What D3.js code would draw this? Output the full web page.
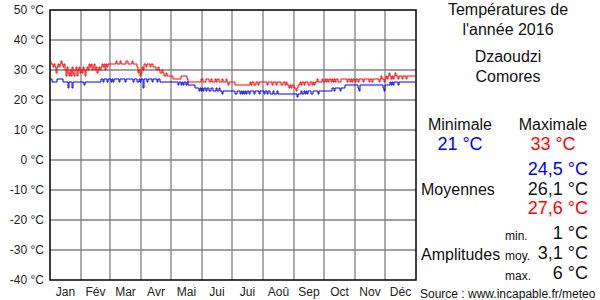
<!DOCTYPE html>
<html>
<head>
<meta charset="utf-8">
<script src="https://cdn.jsdelivr.net/npm/d3@7"></script>
<style>
  body { margin: 0; background: #fff; }
  svg { font-family: "Liberation Sans", Arial, sans-serif; }
</style>
</head>
<body>
<div id="chart"></div>
<script>
// Month labels and number of days in each month (2016, leap year)
const months = ["Jan", "Fév", "Mar", "Avr", "Mai", "Jui", "Jui", "Aoû", "Sep", "Oct", "Nov", "Déc"];
const monthDays = [31, 29, 31, 30, 31, 30, 31, 31, 30, 31, 30, 31];
const yTicks = [50, 40, 30, 20, 10, 0, -10, -20, -30, -40];

// Daily maxima, one row per month
const tMax = [
  33,32,32,31,32,31,29,31,32,31,32,33,32,31,32,30,28,31,29,28,30,28,31,29,28,30,31,28,30,31,29,
  30,29,31,30,28,30,31,30,32,31,32,30,31,32,30,31,29,30,31,30,31,32,31,32,30,32,31,32,32,
  32,32,32,32,32,32,33,32,32,32,33,32,32,32,32,32,33,33,32,32,32,32,33,32,32,32,32,31,29,30,28,
  29,31,30,32,32,31,32,32,32,31,32,32,31,31,31,30,30,31,30,29,29,30,29,28,28,29,28,28,28,28,
  28,28,27,27,27,27,27,27,27,27,28,28,28,28,28,28,27,26,26,26,26,26,26,26,26,26,26,26,26,26,27,
  27,26,26,26,27,27,27,26,26,27,26,26,26,27,26,27,27,26,26,26,27,26,26,26,27,26,25,26,26,26,
  26,26,26,25,25,25,25,25,25,25,25,25,25,25,25,25,25,25,26,25,26,26,25,25,26,26,25,26,26,26,26,
  26,26,26,26,25,26,26,26,26,25,26,26,26,25,26,26,26,26,25,25,26,26,25,26,25,25,24,25,24,25,25,
  24,24,23,24,25,25,26,25,26,26,25,26,26,26,25,25,26,26,25,26,25,26,26,27,26,26,26,26,27,26,
  26,27,26,27,26,27,27,26,27,26,27,26,27,27,26,26,26,27,27,27,27,27,27,26,27,27,26,27,26,27,27,
  26,27,27,26,27,27,27,27,26,27,27,27,27,27,26,27,27,26,27,27,27,27,27,27,26,27,28,27,27,26,
  27,28,27,28,29,28,27,28,27,28,29,28,28,27,28,28,28,27,28,28,28,27,28,28,28,28,28,28,28,28,28
];

// Daily minima, one row per month
const tMin = [
  27,27,26,26,26,26,26,27,27,27,27,27,27,26,26,26,26,26,24,26,26,26,24,26,26,26,26,26,26,26,26,
  26,26,26,25,26,26,26,26,26,26,26,26,26,26,26,26,26,26,26,26,27,27,26,27,27,27,26,27,27,
  27,26,27,26,27,27,27,27,27,26,27,27,27,27,27,26,27,27,27,27,27,27,27,26,27,27,27,26,26,27,26,
  27,27,24,27,27,27,26,27,27,27,27,26,27,27,27,27,26,27,27,26,26,26,26,26,26,26,26,26,26,26,
  26,26,26,26,26,26,26,25,26,26,25,26,25,26,26,25,26,25,25,25,25,25,25,25,24,24,24,24,23,24,23,
  24,23,24,24,23,24,24,23,23,24,24,23,23,23,24,23,23,24,23,23,22,23,23,23,23,23,23,23,23,23,
  23,23,23,22,22,23,23,23,22,23,22,23,22,23,22,23,23,22,23,23,23,23,22,23,23,23,23,22,23,23,23,
  23,22,23,23,22,23,23,22,22,22,23,22,22,22,23,22,22,22,22,22,22,22,22,22,22,22,22,22,22,22,22,
  22,22,22,21,22,22,22,23,22,22,23,22,23,22,23,23,23,22,22,23,23,23,23,23,22,23,23,23,23,23,
  23,23,23,23,23,23,23,23,24,24,23,24,24,24,24,24,23,24,24,24,24,25,25,25,25,25,25,25,25,25,25,
  25,25,25,24,23,25,25,25,25,25,25,25,25,25,25,25,25,25,25,25,25,25,25,25,25,25,25,25,24,23,
  25,25,25,25,25,26,25,26,25,26,26,26,26,25,26,26,26,26,26,26,26,26,26,26,26,26,26,26,26,26,26
];

// Summary texts shown on the right
const extremes = ["21 °C", "33 °C"];
const means = ["24,5 °C", "26,1 °C", "27,6 °C"];
const ampLabels = ["min.", "moy.", "max."];
const amplitudes = ["1 °C", "3,1 °C", "6 °C"];

const width = 600;
const height = 300;
const plotLeft = 50, plotRight = 416, plotTop = 10, plotBottom = 280;

const svg = d3.select("#chart")
  .append("svg")
  .attr("width", width)
  .attr("height", height);

const nDays = d3.sum(monthDays);
const x = d3.scaleLinear().domain([0, nDays]).range([plotLeft, plotRight]);
const y = d3.scaleLinear().domain([-40, 50]).range([plotBottom, plotTop]);

// month boundaries
const bounds = [0];
monthDays.forEach(d => bounds.push(bounds[bounds.length - 1] + d));

// grid
svg.append("g")
  .selectAll("line")
  .data(yTicks.slice(1, -1))
  .enter()
  .append("line")
  .attr("x1", plotLeft).attr("x2", plotRight)
  .attr("y1", d => y(d)).attr("y2", d => y(d))
  .attr("stroke", "#808080")
  .attr("stroke-width", 1.3);

svg.append("g")
  .selectAll("line")
  .data(bounds.slice(1, -1))
  .enter()
  .append("line")
  .attr("x1", d => x(d)).attr("x2", d => x(d))
  .attr("y1", plotTop).attr("y2", plotBottom)
  .attr("stroke", "#808080")
  .attr("stroke-width", 1.3);

// frame
svg.append("rect")
  .attr("x", plotLeft).attr("y", plotTop)
  .attr("width", plotRight - plotLeft).attr("height", plotBottom - plotTop)
  .attr("fill", "none")
  .attr("stroke", "black")
  .attr("stroke-width", 1.5);

// y labels
svg.append("g")
  .selectAll("text")
  .data(yTicks)
  .enter()
  .append("text")
  .attr("x", 44)
  .attr("y", d => y(d) + 4)
  .attr("text-anchor", "end")
  .style("font-size", "12px")
  .attr("fill", "#222")
  .text(d => d + " °C");

// month labels
svg.append("g")
  .selectAll("text")
  .data(months)
  .enter()
  .append("text")
  .attr("x", (d, i) => x((bounds[i] + bounds[i + 1]) / 2))
  .attr("y", 296)
  .attr("text-anchor", "middle")
  .style("font-size", "12px")
  .attr("fill", "#222")
  .text(d => d);

// temperature lines
const line = d3.line()
  .x((d, i) => x(i + 0.5))
  .y(d => y(d))
  .curve(d3.curveStep);

svg.append("path")
  .datum(tMax)
  .attr("d", line)
  .attr("fill", "none")
  .attr("stroke", "red")
  .attr("stroke-width", 1);

svg.append("path")
  .datum(tMin)
  .attr("d", line)
  .attr("fill", "none")
  .attr("stroke", "blue")
  .attr("stroke-width", 1);

// right panel
const panel = svg.append("g");

function txt(tx, ty, s, size, anchor, color) {
  panel.append("text")
    .attr("x", tx).attr("y", ty)
    .attr("text-anchor", anchor)
    .style("font-size", size + "px")
    .attr("fill", color || "#111")
    .text(s);
}

txt(508, 15, "Températures de", 16, "middle");
txt(508, 35, "l'année 2016", 16, "middle");
txt(508, 62, "Dzaoudzi", 16, "middle");
txt(508, 82, "Comores", 16, "middle");

txt(460, 130, "Minimale", 16, "middle");
txt(553, 130, "Maximale", 16, "middle");
txt(460, 150, extremes[0], 18, "middle", "blue");
txt(553, 150, extremes[1], 18, "middle", "red");

txt(421, 195, "Moyennes", 16, "start");
const meanColors = ["blue", "#111", "red"];
means.forEach((m, i) => txt(588, 175 + i * 19.5, m, 18, "end", meanColors[i]));

txt(421, 260, "Amplitudes", 16, "start");
ampLabels.forEach((a, i) => txt(505, 240 + i * 20, a, 12, "start"));
amplitudes.forEach((a, i) => txt(588, 239 + i * 20, a, 18, "end"));

txt(420, 298, "Source : www.incapable.fr/meteo", 12, "start");
</script>
</body>
</html>
